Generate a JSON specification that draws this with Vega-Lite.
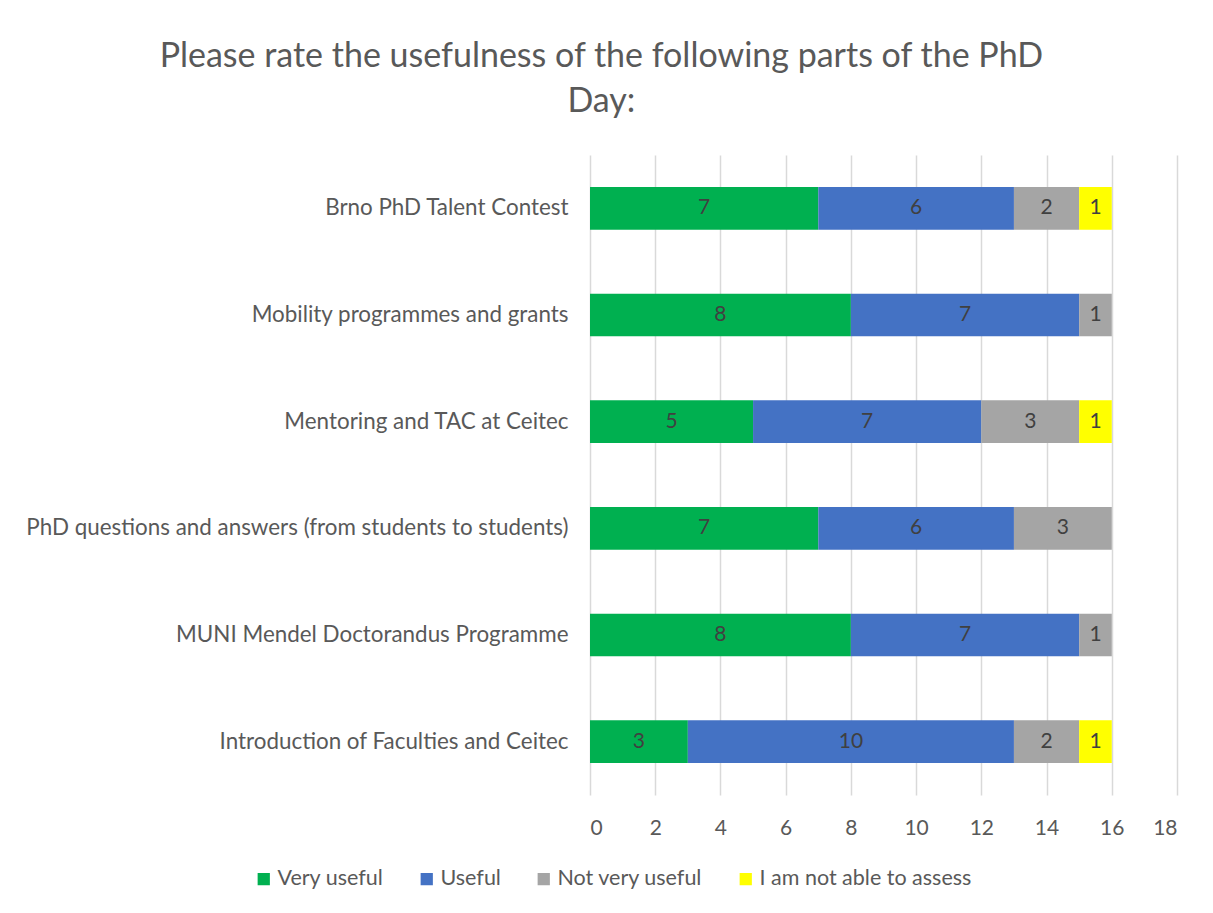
{
  "$schema": "https://vega.github.io/schema/vega-lite/v6.json",
  "width": 587,
  "height": 640,
  "padding": {"left": 25, "top": 40, "right": 20, "bottom": 20},
  "background": "white",
  "title": {
    "text": ["Please rate the usefulness of the following parts of the PhD", "Day:"],
    "font": "Lato",
    "fontSize": 34,
    "fontWeight": "normal",
    "color": "#595959",
    "anchor": "middle",
    "frame": "bounds",
    "lineHeight": 45,
    "offset": 36
  },
  "data": {
    "values": [
      {"item": "Brno PhD Talent Contest", "resp": "Very useful", "o": 1, "n": 7},
      {"item": "Brno PhD Talent Contest", "resp": "Useful", "o": 2, "n": 6},
      {"item": "Brno PhD Talent Contest", "resp": "Not very useful", "o": 3, "n": 2},
      {"item": "Brno PhD Talent Contest", "resp": "I am not able to assess", "o": 4, "n": 1},
      {"item": "Mobility programmes and grants", "resp": "Very useful", "o": 1, "n": 8},
      {"item": "Mobility programmes and grants", "resp": "Useful", "o": 2, "n": 7},
      {"item": "Mobility programmes and grants", "resp": "Not very useful", "o": 3, "n": 1},
      {"item": "Mentoring and TAC at Ceitec", "resp": "Very useful", "o": 1, "n": 5},
      {"item": "Mentoring and TAC at Ceitec", "resp": "Useful", "o": 2, "n": 7},
      {"item": "Mentoring and TAC at Ceitec", "resp": "Not very useful", "o": 3, "n": 3},
      {"item": "Mentoring and TAC at Ceitec", "resp": "I am not able to assess", "o": 4, "n": 1},
      {"item": "PhD questions and answers (from students to students)", "resp": "Very useful", "o": 1, "n": 7},
      {"item": "PhD questions and answers (from students to students)", "resp": "Useful", "o": 2, "n": 6},
      {"item": "PhD questions and answers (from students to students)", "resp": "Not very useful", "o": 3, "n": 3},
      {"item": "MUNI Mendel Doctorandus Programme", "resp": "Very useful", "o": 1, "n": 8},
      {"item": "MUNI Mendel Doctorandus Programme", "resp": "Useful", "o": 2, "n": 7},
      {"item": "MUNI Mendel Doctorandus Programme", "resp": "Not very useful", "o": 3, "n": 1},
      {"item": "Introduction of Faculties and Ceitec", "resp": "Very useful", "o": 1, "n": 3},
      {"item": "Introduction of Faculties and Ceitec", "resp": "Useful", "o": 2, "n": 10},
      {"item": "Introduction of Faculties and Ceitec", "resp": "Not very useful", "o": 3, "n": 2},
      {"item": "Introduction of Faculties and Ceitec", "resp": "I am not able to assess", "o": 4, "n": 1}
    ]
  },
  "transform": [
    {"stack": "n", "groupby": ["item"], "sort": [{"field": "o", "order": "ascending"}], "as": ["x0", "x1"]},
    {"calculate": "(datum.x0 + datum.x1) / 2", "as": "mid"}
  ],
  "encoding": {
    "y": {
      "field": "item",
      "type": "nominal",
      "sort": [
        "Brno PhD Talent Contest",
        "Mobility programmes and grants",
        "Mentoring and TAC at Ceitec",
        "PhD questions and answers (from students to students)",
        "MUNI Mendel Doctorandus Programme",
        "Introduction of Faculties and Ceitec"
      ],
      "scale": {"paddingInner": 0.6, "paddingOuter": 0.3},
      "axis": {
        "title": null,
        "domain": false,
        "ticks": false,
        "labelFont": "Lato",
        "labelFontSize": 22.4,
        "labelColor": "#595959",
        "labelPadding": 22,
        "labelLimit": 1000
      }
    }
  },
  "layer": [
    {
      "mark": {"type": "bar"},
      "encoding": {
        "x": {
          "field": "x0",
          "type": "quantitative",
          "scale": {"domain": [0, 18], "nice": false},
          "axis": {
            "title": null,
            "values": [0, 2, 4, 6, 8, 10, 12, 14, 16, 18],
            "domain": false,
            "ticks": false,
            "grid": true,
            "gridColor": "#d9d9d9",
            "gridWidth": 1.5,
            "labelFont": "Lato",
            "labelFontSize": 21,
            "labelColor": "#595959",
            "labelPadding": 22
          }
        },
        "x2": {"field": "x1"},
        "color": {
          "field": "resp",
          "type": "nominal",
          "scale": {
            "domain": ["Very useful", "Useful", "Not very useful", "I am not able to assess"],
            "range": ["#00B050", "#4472C4", "#A5A5A5", "#FFFF00"]
          },
          "legend": {
            "title": null,
            "orient": "none",
            "direction": "horizontal",
            "legendX": -337,
            "legendY": 713,
            "symbolType": "square",
            "symbolSize": 150,
            "symbolStrokeWidth": 0,
            "labelFont": "Lato",
            "labelFontSize": 21.5,
            "labelColor": "#595959",
            "labelOffset": 3,
            "labelLimit": 500,
            "columnPadding": 32
          }
        }
      }
    },
    {
      "mark": {"type": "text", "font": "Lato", "fontSize": 21, "color": "#404040", "baseline": "middle", "align": "center"},
      "encoding": {
        "x": {"field": "mid", "type": "quantitative"},
        "text": {"field": "n", "type": "quantitative"}
      }
    }
  ],
  "config": {
    "view": {"stroke": null}
  }
}
